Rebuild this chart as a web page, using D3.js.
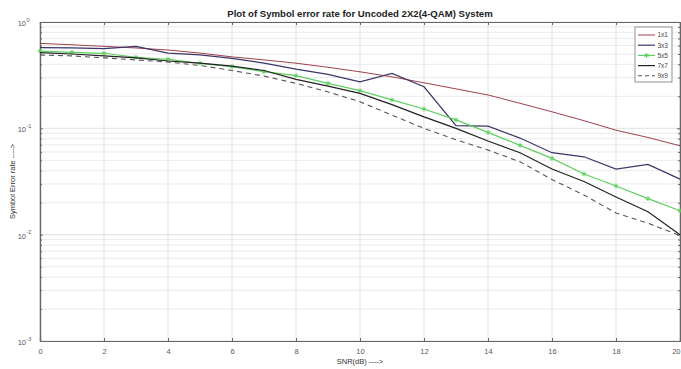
<!DOCTYPE html>
<html>
<head>
<meta charset="utf-8">
<script src="https://cdn.jsdelivr.net/npm/d3@7"></script>
<style>
  body { margin: 0; background: #fff; }
  svg { display: block; font-family: "Liberation Sans", Arial, sans-serif; }
</style>
</head>
<body>
<div id="chart"></div>
<script>
// data
const snr = [0,1,2,3,4,5,6,7,8,9,10,11,12,13,14,15,16,17,18,19,20];
const ser1x1 = [0.63,0.61,0.59,0.57,0.545,0.51,0.47,0.44,0.41,0.375,0.34,0.305,0.268,0.235,0.206,0.172,0.143,0.118,0.096,0.082,0.0686];
const ser3x3 = [0.575,0.57,0.563,0.59,0.51,0.49,0.455,0.41,0.36,0.322,0.274,0.329,0.246,0.106,0.105,0.081,0.059,0.054,0.0414,0.0458,0.0333];
const ser5x5 = [0.533,0.519,0.508,0.466,0.446,0.409,0.38,0.341,0.313,0.265,0.226,0.185,0.152,0.12,0.0917,0.0692,0.0522,0.0372,0.0287,0.0218,0.0168];
const ser7x7 = [0.515,0.50,0.48,0.46,0.43,0.41,0.385,0.35,0.289,0.249,0.213,0.167,0.128,0.10,0.076,0.059,0.0414,0.0316,0.0226,0.0164,0.010];
const ser9x9 = [0.49,0.48,0.46,0.44,0.42,0.39,0.35,0.31,0.265,0.22,0.178,0.133,0.10,0.078,0.0625,0.0485,0.033,0.0236,0.016,0.0128,0.0098];
const xTicks = [0,2,4,6,8,10,12,14,16,18,20];
const yDecades = [0,-1,-2,-3];

const series = [
  { name: '1x1', values: ser1x1, color: '#a3404c', dash: null, marker: false, width: 1 },
  { name: '3x3', values: ser3x3, color: '#3b3566', dash: null, marker: false, width: 1.2 },
  { name: '5x5', values: ser5x5, color: '#5fcf5f', dash: null, marker: true, width: 1.2 },
  { name: '7x7', values: ser7x7, color: '#222222', dash: null, marker: false, width: 1.2 },
  { name: '9x9', values: ser9x9, color: '#555555', dash: '5,4', marker: false, width: 1.1 }
];

const width = 681, height = 369;
const margin = { top: 22, right: 1, bottom: 28, left: 40 };

const svg = d3.select('#chart').append('svg')
  .attr('width', width)
  .attr('height', height);

const x = d3.scaleLinear()
  .domain([0, 20])
  .range([margin.left, width - margin.right]);

const y = d3.scaleLog()
  .domain([1e-3, 1])
  .range([height - margin.bottom, margin.top]);

const axisColor = '#666';

// grid: minor y, major y, major x
const minorY = [];
[1e-3, 1e-2, 1e-1].forEach(d => { for (let k = 2; k <= 9; k++) minorY.push(d * k); });

svg.append('g')
  .selectAll('line')
  .data(minorY)
  .join('line')
    .attr('x1', x(0)).attr('x2', x(20))
    .attr('y1', d => y(d)).attr('y2', d => y(d))
    .attr('stroke', '#e6e6e6')
    .attr('stroke-width', 0.8);

svg.append('g')
  .selectAll('line')
  .data(yDecades.map(p => Math.pow(10, p)))
  .join('line')
    .attr('x1', x(0)).attr('x2', x(20))
    .attr('y1', d => y(d)).attr('y2', d => y(d))
    .attr('stroke', '#d8d8d8')
    .attr('stroke-width', 0.8);

svg.append('g')
  .selectAll('line')
  .data(xTicks)
  .join('line')
    .attr('x1', d => x(d)).attr('x2', d => x(d))
    .attr('y1', y(1)).attr('y2', y(1e-3))
    .attr('stroke', '#d8d8d8')
    .attr('stroke-width', 0.8);

// axes (ticks pointing inward, MATLAB style)
const bottom = svg.append('g')
  .attr('transform', `translate(0,${y(1e-3)})`)
  .call(d3.axisBottom(x).tickValues(xTicks).tickSize(-3).tickPadding(8));

svg.append('g')
  .attr('transform', `translate(0,${y(1)})`)
  .call(d3.axisTop(x).tickValues(xTicks).tickSize(-3).tickFormat(''));

svg.append('g')
  .attr('transform', `translate(${x(0)},0)`)
  .call(d3.axisLeft(y).tickValues(minorY).tickSize(-2).tickFormat(''));

svg.append('g')
  .attr('transform', `translate(${x(0)},0)`)
  .call(d3.axisLeft(y).tickValues(yDecades.map(p => Math.pow(10, p))).tickSize(-3).tickFormat(''));

svg.append('g')
  .attr('transform', `translate(${x(20)},0)`)
  .call(d3.axisRight(y).tickValues(minorY).tickSize(-2).tickFormat(''));

svg.append('g')
  .attr('transform', `translate(${x(20)},0)`)
  .call(d3.axisRight(y).tickValues(yDecades.map(p => Math.pow(10, p))).tickSize(-3).tickFormat(''));

svg.selectAll('.domain').attr('stroke', axisColor).attr('stroke-width', 1.2);
svg.selectAll('.tick line').attr('stroke', axisColor);
bottom.selectAll('.tick text')
  .attr('fill', '#555')
  .attr('font-size', 7.5);
// last label sits at the window edge; nudge it inside
bottom.selectAll('.tick text')
  .filter(d => d === 20)
  .attr('text-anchor', 'end')
  .attr('dx', 0);

// y tick labels 10^p
const yLab = svg.append('g');
yDecades.forEach(p => {
  yLab.append('text')
    .attr('x', x(0) - 14)
    .attr('y', y(Math.pow(10, p)) + 4)
    .attr('text-anchor', 'end')
    .attr('fill', '#555')
    .attr('font-size', 7.5)
    .text('10');
  yLab.append('text')
    .attr('x', x(0) - 13.5)
    .attr('y', y(Math.pow(10, p)) - 0.5)
    .attr('fill', '#555')
    .attr('font-size', 5.5)
    .text(p === 0 ? '0' : String(p));
});

// lines
const line = d3.line()
  .x((d, i) => x(snr[i]))
  .y(d => y(d));

series.forEach(s => {
  svg.append('path')
    .datum(s.values)
    .attr('fill', 'none')
    .attr('stroke', s.color)
    .attr('stroke-width', s.width)
    .attr('stroke-dasharray', s.dash)
    .attr('d', line);

  if (s.marker) {
    svg.append('g')
      .selectAll('path')
      .data(s.values)
      .join('path')
        .attr('transform', (d, i) => `translate(${x(snr[i])},${y(d)})`)
        .attr('d', d3.symbol(d3.symbolAsterisk, 16))
        .attr('fill', 'none')
        .attr('stroke', s.color)
        .attr('stroke-width', 1);
  }
});

// title and axis labels
svg.append('text')
  .attr('x', (x(0) + x(20)) / 2)
  .attr('y', 17)
  .attr('text-anchor', 'middle')
  .attr('font-size', 9.6)
  .attr('font-weight', 'bold')
  .attr('fill', '#222')
  .text('Plot of Symbol error rate for Uncoded 2X2(4-QAM) System');

svg.append('text')
  .attr('x', (x(0) + x(20)) / 2)
  .attr('y', 364)
  .attr('text-anchor', 'middle')
  .attr('font-size', 7.5)
  .attr('fill', '#333')
  .text('SNR(dB) ---->');

svg.append('text')
  .attr('transform', `translate(15,${(y(1) + y(1e-3)) / 2}) rotate(-90)`)
  .attr('text-anchor', 'middle')
  .attr('font-size', 7.5)
  .attr('fill', '#333')
  .text('Symbol Error rate ---->');

// legend
const lg = svg.append('g').attr('transform', 'translate(635,27)');
lg.append('rect')
  .attr('width', 37)
  .attr('height', 55)
  .attr('fill', '#fff')
  .attr('stroke', '#777')
  .attr('stroke-width', 0.8);

series.forEach((s, i) => {
  const ly = 8 + i * 10.2;
  lg.append('line')
    .attr('x1', 3).attr('x2', 20)
    .attr('y1', ly).attr('y2', ly)
    .attr('stroke', s.color)
    .attr('stroke-width', s.width)
    .attr('stroke-dasharray', s.dash ? '4,3' : null);
  if (s.marker) {
    lg.append('path')
      .attr('transform', `translate(11.5,${ly})`)
      .attr('d', d3.symbol(d3.symbolAsterisk, 16))
      .attr('fill', 'none')
      .attr('stroke', s.color);
  }
  lg.append('text')
    .attr('x', 22.5)
    .attr('y', ly + 2.3)
    .attr('font-size', 6.5)
    .attr('fill', '#444')
    .text(s.name);
});
</script>
</body>
</html>
